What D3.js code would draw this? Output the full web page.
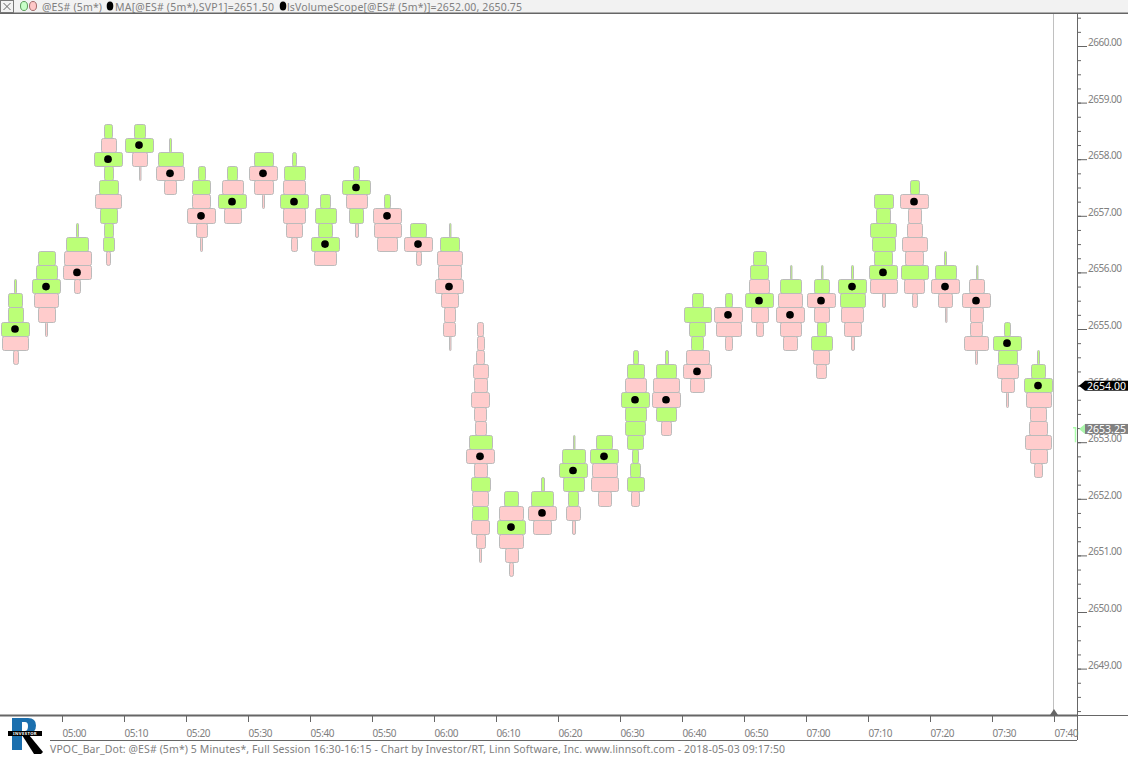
<!DOCTYPE html>
<html><head><meta charset="utf-8">
<script src="https://cdnjs.cloudflare.com/ajax/libs/d3/7.8.5/d3.min.js"></script>
<style>
html,body{margin:0;padding:0;background:#fff;overflow:hidden}
svg{display:block}
text{font-family:"Noto Sans","Open Sans",sans-serif}
</style></head><body>
<svg id="c" width="1128" height="757"></svg>
<script>
// ---- data ----
const barIndex = d3.range(0, 34); // index of each 5-minute bar, the first opening at 04:50
const sessionStart = "04:50";
// highest price of every bar, top row first; every row below is one 0.25 tick lower
const barHighs = [2655.75,2656.25,2656.75,2658.5,2658.5,2658.25,2657.75,2657.75,2658,2658,2657.25,2657.75,2657.25,2656.75,2656.75,2655,2652,2652.25,2653,2653,2654.5,2654.5,2655.5,2655.5,2656.25,2656,2656,2656,2657.25,2657.5,2656.25,2656,2655,2654.5];
// volume at price per row of every bar (relative, VPOC row = 88)
const rowVolumes = [
 [8,45,48,88,80,17],
 [55,66,88,76,55,8],
 [8,70,85,88,22],
 [28,49,88,31,61,82,55,31,37,16],
 [37,88,49,7],
 [9,79,88,40],
 [24,58,58,88,37,8],
 [34,67,88,55],
 [61,88,61,8],
 [16,67,70,88,70,52,22],
 [33,67,46,88,70],
 [22,88,67,46,13],
 [22,88,85,64],
 [52,88,19],
 [7,61,79,73,88,55,37,40,7],
 [22,25,28,49,43,58,40,37,73,88,43,61,52,52,58,31,10],
 [45,76,88,76,43,16],
 [13,70,88,58],
 [7,73,88,67,34,46,13],
 [52,88,79,85,43],
 [19,55,67,88,67,64,52,22,34,55,28],
 [13,64,82,88,64,34],
 [36,85,51,39,72,88,45],
 [24,88,79,23],
 [43,58,64,88,55,25],
 [6,67,76,88,67,46],
 [7,49,88,49,31,67,52,34],
 [10,88,79,70,53,13],
 [61,46,82,73,58,88,85,13],
 [31,88,43,49,79,58,85,64,19],
 [8,67,88,46,7],
 [7,49,88,43,40,76,10],
 [21,88,61,67,43,10],
 [9,46,88,79,52,58,82,55,28]
];
// G = green row, P = pink row
const rowSides = ["GGGGPP","GGGPPP","GGPPP","GPGGGPGGGP","GGPP","GGPP","GGPPPP","GPGP","GPPP","GGPGPPP","GGGGP","GGPGP","GPPP","GPP","GGPPPPPPP","PPPPPPPPGPPGPGPPP","GPGPPP","GGPP","GGGGGPP","GGPPP","GGPGGGGGGGP","GGPPGP","GGGGPPP","GPPP","GGPGPP","GGPPPP","GGPPGGPP","GGGPPP","GGGGGGPP","GPPPPPGPP","GGPPP","GPPPPPP","GGGPPP","GGGPPPPPP"];
const vpocPrices = [2655,2655.75,2656,2658,2658.25,2657.75,2657,2657.25,2657.75,2657.25,2656.5,2657.5,2657,2656.5,2655.75,2652.75,2651.5,2651.75,2652.5,2652.75,2653.75,2653.75,2654.25,2655.25,2655.5,2655.25,2655.5,2655.75,2656,2657.25,2655.75,2655.5,2654.75,2654];
const priceLabels = d3.range(2649, 2661);
const timeLabels = ["05:00","05:10","05:20","05:30","05:40","05:50","06:00","06:10","06:20","06:30","06:40","06:50","07:00","07:10","07:20","07:30","07:40"];
const headerText = ["@ES# (5m*)","MA[@ES# (5m*),SVP1]=2651.50","lsVolumeScope[@ES# (5m*)]=2652.00, 2650.75"];
const footerText = "VPOC_Bar_Dot: @ES# (5m*) 5 Minutes*, Full Session 16:30-16:15 - Chart by Investor/RT, Linn Software, Inc. www.linnsoft.com - 2018-05-03 09:17:50";
const lastPrice = 2654.00, otherPrice = 2653.25, tickSize = 0.25;

// ---- scales ----
const parse = d3.timeParse("%H:%M");
const x = d3.scaleTime().domain([parse("05:00"), parse("07:40")]).range([62, 1054]);
const y = d3.scaleLinear().domain([2655, 2654]).range([328.7, 385.3]);
const wScale = d3.scaleLinear().domain([0, 88]).range([0, 29.3]);
const rowH = Math.abs(y(0) - y(tickSize));
const barCenter = i => x(new Date(+parse(sessionStart) + (i * 5 + 2.5) * 60000));
const fmt = d3.format(".2f");
const GREEN = "#bbff77", PINK = "#ffcccc", EDGE = "#bbbbbb", AX = "#666", TXT = "#808080";

const svg = d3.select("#c");

// ---- frame ----
svg.append("rect").attr("x",0).attr("y",0).attr("width",1128).attr("height",13).attr("fill","#f2f2f2");
svg.append("line").attr("x1",1053.5).attr("x2",1053.5).attr("y1",14).attr("y2",712).attr("stroke","#c0c0c0");

// ---- bars ----
const rows = barIndex.flatMap(i => rowVolumes[i].map((v, r) => ({
  bar: i, v, side: rowSides[i][r], price: barHighs[i] - r * tickSize })));
const rowLeft = d => Math.round(barCenter(d.bar) + 0.3 - wScale(d.v) / 2) + 0.5;
const rowWidth = d => Math.max(1.5, Math.round(wScale(d.v)) - 1);
const rowTop = d => Math.round(y(d.price) - rowH / 2) + 0.5;
const rowBottom = d => Math.round(y(d.price) + rowH / 2) + 0.5;
svg.append("g").selectAll("rect").data(rows).join("rect")
  .attr("x", rowLeft)
  .attr("width", rowWidth)
  .attr("y", rowTop)
  .attr("height", d => rowBottom(d) - rowTop(d))
  .attr("rx", d => Math.min(2, rowWidth(d) / 2))
  .attr("fill", d => d.side === "G" ? GREEN : PINK)
  .attr("stroke", EDGE).attr("stroke-width", 1);

// ---- VPOC dots ----
svg.append("g").selectAll("circle").data(vpocPrices).join("circle")
  .attr("cx", (d, i) => barCenter(i) - 0.5)
  .attr("cy", d => y(d) + 0.3)
  .attr("r", 3.85).attr("fill", "#000");

// ---- price axis ----
const py = d3.scaleLinear().domain(y.domain()).range([329, 385.6]);
const minorVals = d3.range(2648.25, 2660.51, tickSize);
const axisX = 1077.5;
const minor = svg.append("g").attr("transform", `translate(${axisX},0)`)
  .call(d3.axisRight(py).tickValues(minorVals).tickSize(3.5).tickFormat(""));
const major = svg.append("g").attr("transform", `translate(${axisX},0)`)
  .call(d3.axisRight(py).tickValues(priceLabels).tickSize(9.5).tickPadding(1).tickFormat(fmt));
[minor, major].forEach(g => { g.select(".domain").remove(); g.selectAll("line").attr("stroke", AX); });
major.selectAll("text").attr("fill", TXT).attr("font-size", 10).attr("dy", "-0.05em").attr("letter-spacing", -0.5);

svg.append("line").attr("x1",axisX).attr("x2",axisX).attr("y1",13).attr("y2",740).attr("stroke",AX);

// ---- time axis ----
const timeAxis = svg.append("g").attr("transform","translate(0,716)")
  .call(d3.axisBottom(x).tickValues(timeLabels.map(parse)).tickSize(6).tickPadding(8).tickFormat(d3.timeFormat("%H:%M")));
timeAxis.select(".domain").remove();
timeAxis.selectAll("line").attr("stroke", AX);
timeAxis.selectAll("text").attr("fill", TXT).attr("font-size", 10).attr("text-anchor","start").attr("letter-spacing",-0.4);

// ---- frame lines ----
svg.append("line").attr("x1",0).attr("x2",1128).attr("y1",13.3).attr("y2",13.3).attr("stroke",AX).attr("stroke-width",1.5);
svg.append("line").attr("x1",0).attr("x2",1077).attr("y1",715.5).attr("y2",715.5).attr("stroke",AX).attr("stroke-width",2);
svg.append("line").attr("x1",1077).attr("x2",1128).attr("y1",715.5).attr("y2",715.5).attr("stroke",AX);
svg.append("line").attr("x1",50).attr("x2",1077).attr("y1",740.5).attr("y2",740.5).attr("stroke",AX);
svg.append("path").attr("d",`M${x(parse("07:40"))-4},715 l4,-6 l4,6 z`).attr("fill",AX);

// ---- price tags ----
function tag(price, bg, fg, arrow, nudge){
  const yy = y(price) + nudge, x0 = 1085;
  svg.append("rect").attr("x",x0).attr("y",yy-5).attr("width",1128-x0).attr("height",10).attr("fill",bg);
  svg.append("path").attr("d",`M${x0},${yy-5} l-6,5 l6,5 z`).attr("fill",arrow);
  svg.append("text").attr("x",x0+2).attr("y",yy+3.8).attr("fill",fg).attr("font-size",10.5).attr("textLength",39).attr("lengthAdjust","spacingAndGlyphs").text(fmt(price));
}
tag(lastPrice,"#000","#fff","#000",0.4);
tag(otherPrice,"#808080","#fff","#aaf5aa",1.2);
const mk = y(otherPrice);
svg.append("path").attr("d",`M1073,${mk} h2.5 v14.5`).attr("fill","none").attr("stroke","#aaffaa").attr("stroke-width",1.5);

// ---- header ----
const hdr = svg.append("g");
hdr.append("rect").attr("x",0.5).attr("y",0.5).attr("width",13).attr("height",12).attr("fill","none").attr("stroke","#777");
hdr.append("path").attr("d","M3.5,3 L10.5,10 M10.5,3 L3.5,10").attr("stroke","#666").attr("fill","none");
hdr.append("ellipse").attr("cx",24).attr("cy",6).attr("rx",3.5).attr("ry",4.5).attr("fill","#c8ffc8").attr("stroke","#5a9a5a");
hdr.append("ellipse").attr("cx",33).attr("cy",6).attr("rx",3.5).attr("ry",4.5).attr("fill","#ffc8c8").attr("stroke","#a06a6a");
hdr.append("ellipse").attr("cx",110).attr("cy",6).attr("rx",3.3).attr("ry",4.5).attr("fill","#000");
hdr.append("ellipse").attr("cx",283).attr("cy",6).attr("rx",3.3).attr("ry",4.5).attr("fill","#000");
[[42,60,headerText[0]],[115,159,headerText[1]],[287,235,headerText[2]]].forEach(([tx,len,s]) =>
  hdr.append("text").attr("x",tx).attr("y",10.5).attr("font-size",10.5).attr("fill",TXT)
     .attr("textLength",len).attr("lengthAdjust","spacing").text(s));

// ---- footer ----
svg.append("text").attr("x",50).attr("y",753).attr("font-size",10.5).attr("fill",TXT)
   .attr("textLength",735).attr("lengthAdjust","spacing").text(footerText);

// ---- logo ----
const logo = svg.append("g");
logo.append("path").attr("fill","#1b6fae").attr("fill-rule","evenodd")
  .attr("d","M12,718 H28 Q36,718 36,725.5 Q36,733 28,734 L24,734 H22 V750 H12 Z M22,722 V731 H25 Q28,731 28,726 Q28,722 25,722 Z");
logo.append("path").attr("d","M22,735 L29,735 L43,752 L41,754 L34,754 Z").attr("fill","#000");
logo.append("rect").attr("x",8).attr("y",731).attr("width",34).attr("height",5).attr("fill","#000");
logo.append("text").attr("x",25).attr("y",735.2).attr("font-size",4.2).attr("text-anchor","middle").attr("fill","#fff").attr("font-weight",700).attr("letter-spacing",0.4).text("INVESTOR");
</script>
</body></html>
